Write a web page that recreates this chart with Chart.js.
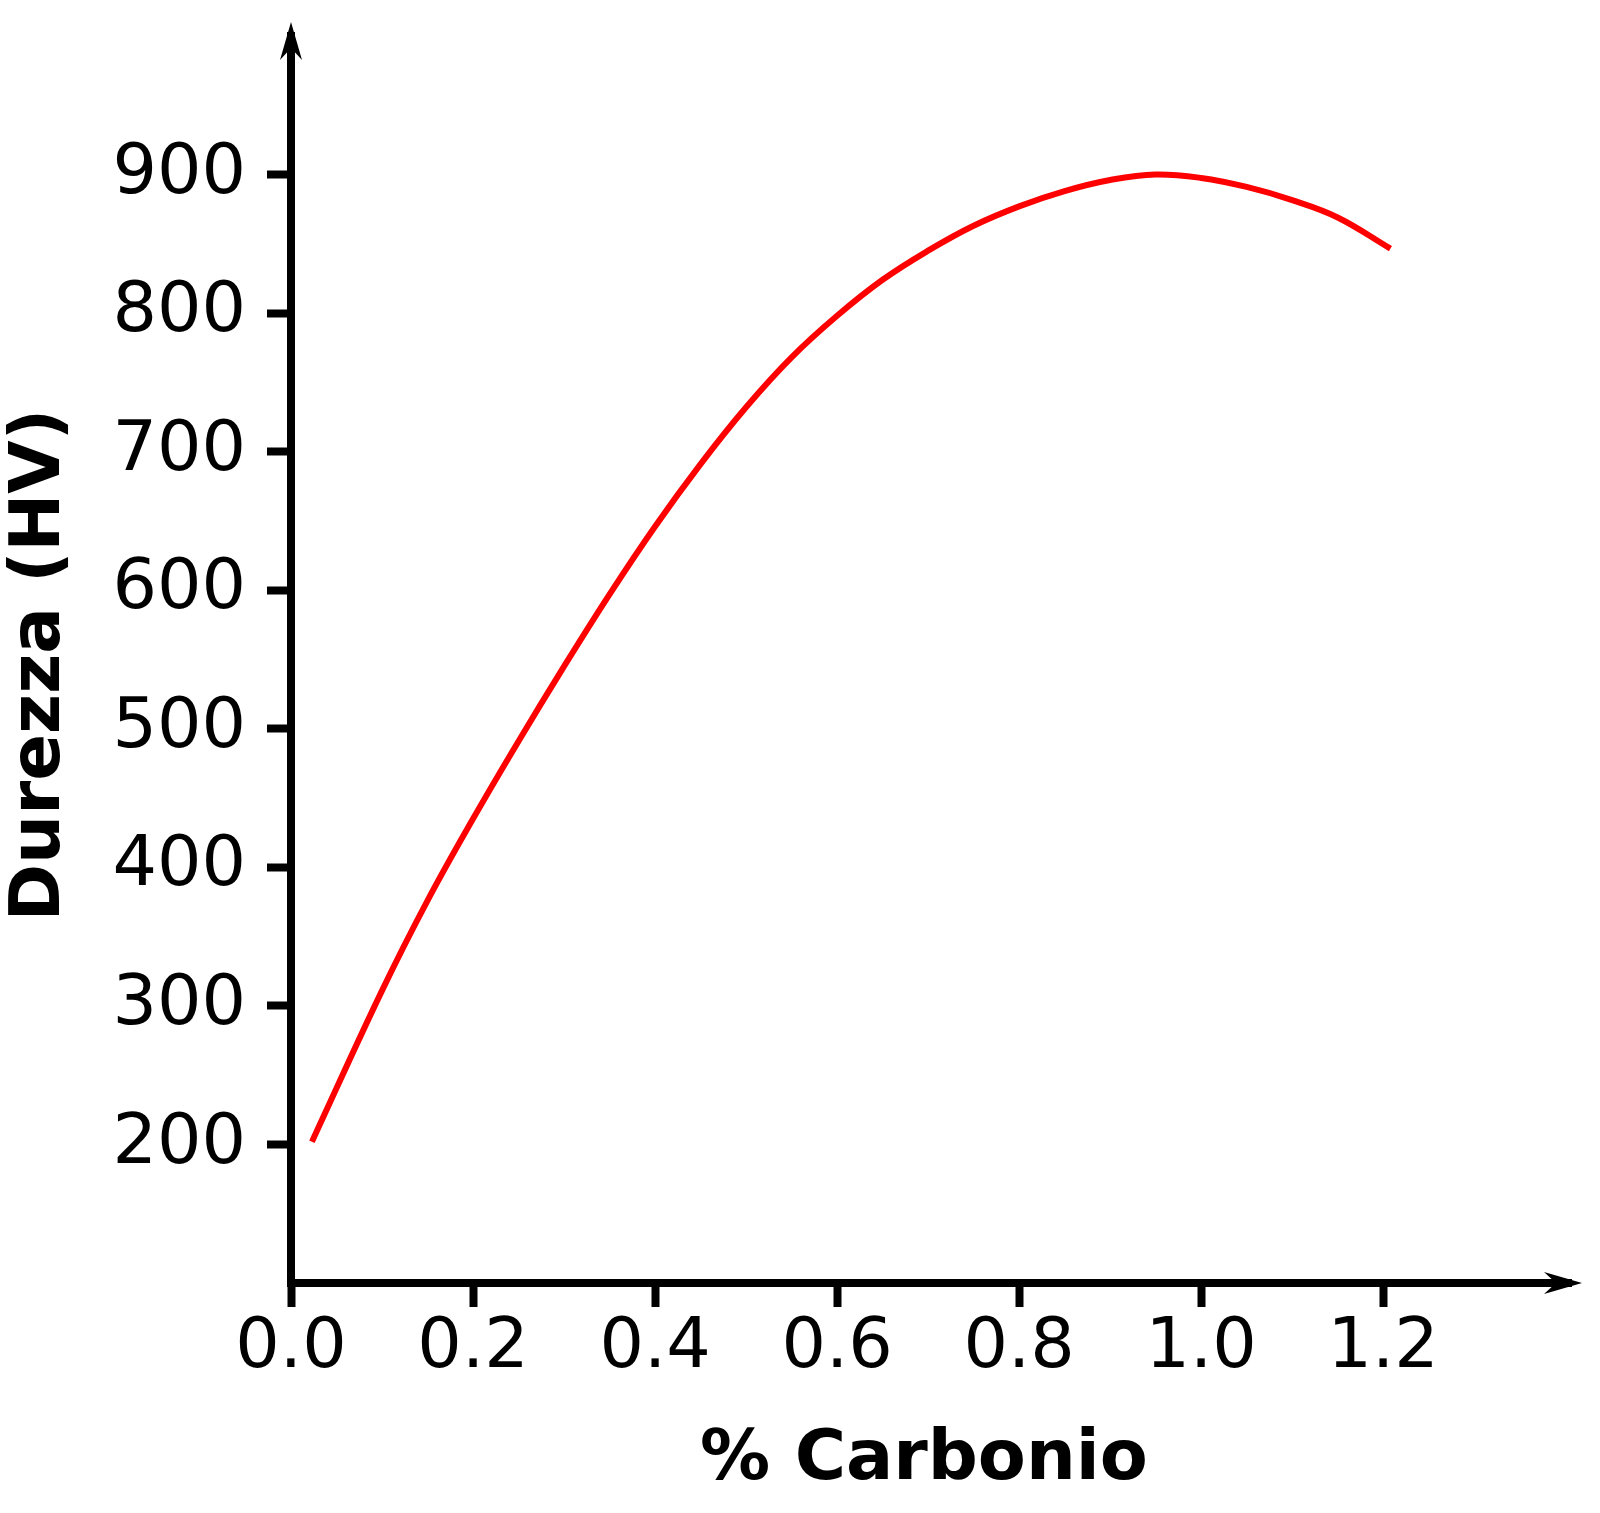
<!DOCTYPE html>
<html>
<head>
<meta charset="utf-8">
<script src="https://cdn.jsdelivr.net/npm/chart.js@4/dist/chart.umd.min.js"></script>
<style>
  html, body { margin: 0; padding: 0; background: #fff; }
  #wrap { width: 1600px; height: 1513px; }
</style>
</head>
<body>
<div id="wrap"><canvas id="hardnessChart" width="1600" height="1513"></canvas></div>
<script>
// carbon content (%) and Vickers hardness
const carbon = [0.023, 0.10, 0.15, 0.20, 0.25, 0.30, 0.35, 0.40, 0.45, 0.50, 0.55, 0.60, 0.65, 0.70, 0.75, 0.80, 0.85, 0.90, 0.95, 1.00, 1.05, 1.10, 1.15, 1.208];
const hardness = [202, 311, 376, 435, 491, 545, 597, 646, 691, 732, 768, 798, 824, 845, 863, 877, 888, 896, 900, 897.5, 891, 881.5, 869, 846.5];

const xTicks = [0, 0.2, 0.4, 0.6, 0.8, 1.0, 1.2];
const yTicks = [200, 300, 400, 500, 600, 700, 800, 900];

const FONT = "'DejaVu Sans', sans-serif";
const ARROW = 25; // how far the arrow tip sticks out past the plot area

// arrow heads on the axis ends + fill the corner where the two borders meet
const axisArrows = {
    id: 'axisArrows',
    afterDraw(chart) {
        const { ctx, chartArea } = chart;
        const x0 = chart.scales.x.getPixelForValue(chart.scales.x.min);
        const y0 = chart.scales.y.getPixelForValue(chart.scales.y.min);
        ctx.save();
        ctx.fillStyle = '#000';
        ctx.fillRect(x0 - 4, y0 - 4, 8, 8);
        // y arrow (up)
        const tipY = chartArea.top - ARROW;
        ctx.fillRect(x0 - 4, tipY + 10, 8, ARROW - 8);
        ctx.beginPath();
        ctx.moveTo(x0, tipY);
        ctx.lineTo(x0 + 11, tipY + 38);
        ctx.lineTo(x0, tipY + 26);
        ctx.lineTo(x0 - 11, tipY + 38);
        ctx.closePath();
        ctx.fill();
        // x arrow (right)
        const tipX = chartArea.right + ARROW;
        ctx.fillRect(chartArea.right - 2, y0 - 4, ARROW - 8, 8);
        ctx.beginPath();
        ctx.moveTo(tipX, y0);
        ctx.lineTo(tipX - 38, y0 - 11);
        ctx.lineTo(tipX - 26, y0);
        ctx.lineTo(tipX - 38, y0 + 11);
        ctx.closePath();
        ctx.fill();
        ctx.restore();
    }
};

const ctx = document.getElementById('hardnessChart').getContext('2d');
new Chart(ctx, {
    type: 'line',
    data: {
        datasets: [{
            data: carbon.map((c, i) => ({ x: c, y: hardness[i] })),
            borderColor: '#ff0000',
            borderWidth: 6,
            pointRadius: 0,
            fill: false,
            tension: 0.4
        }]
    },
    options: {
        responsive: false,
        animation: false,
        devicePixelRatio: 1,
        layout: { padding: { top: 47, right: 43, left: 0, bottom: 0 } },
        plugins: { legend: { display: false }, tooltip: { enabled: false } },
        scales: {
            x: {
                type: 'linear',
                min: 0,
                max: 1.391,
                afterBuildTicks: scale => { scale.ticks = xTicks.map(v => ({ value: v })); },
                afterFit: scale => {
                    scale.height = 230;
                    scale.paddingLeft = 0;
                    scale.paddingRight = 0;
                },
                border: { display: true, color: '#000', width: 8 },
                grid: { drawOnChartArea: false, drawTicks: true, tickLength: 24, tickWidth: 8, tickColor: '#000' },
                ticks: {
                    padding: 0,
                    color: '#000',
                    font: { family: FONT, size: 70 },
                    maxRotation: 0,
                    autoSkip: false,
                    callback: v => Number(v).toFixed(1)
                },
                title: {
                    display: true,
                    text: '% Carbonio',
                    color: '#000',
                    font: { family: FONT, size: 70, weight: 'bold' },
                    padding: { top: 0, bottom: 10 }
                }
            },
            y: {
                type: 'linear',
                min: 100,
                max: 992,
                afterBuildTicks: scale => { scale.ticks = yTicks.map(v => ({ value: v })); },
                afterFit: scale => {
                    scale.width = 291;
                    scale.paddingTop = 0;
                    scale.paddingBottom = 0;
                },
                border: { display: true, color: '#000', width: 8 },
                grid: { drawOnChartArea: false, drawTicks: true, tickLength: 24, tickWidth: 8, tickColor: '#000' },
                ticks: {
                    padding: 21,
                    color: '#000',
                    font: { family: FONT, size: 70 },
                    autoSkip: false,
                    callback: v => String(v)
                },
                title: {
                    display: true,
                    text: 'Durezza (HV)',
                    color: '#000',
                    font: { family: FONT, size: 69, weight: 'bold' },
                    padding: { top: 0, bottom: 0 }
                }
            }
        }
    },
    plugins: [axisArrows]
});
</script>
</body>
</html>
